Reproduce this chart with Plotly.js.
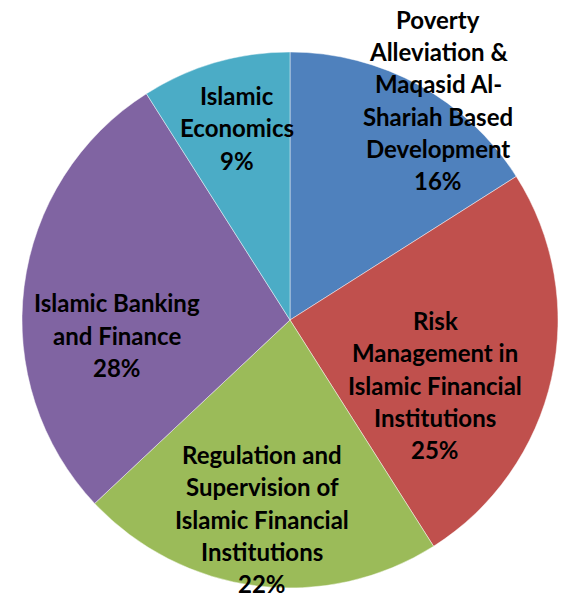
<!DOCTYPE html>
<html>
<head>
<meta charset="utf-8">
<script src="https://cdn.plot.ly/plotly-3.0.1.min.js"></script>
<style>html,body{margin:0;padding:0;background:#fff;}#chart{width:566px;height:599px;}</style>
</head>
<body>
<div id="chart"></div>
<script>
// Data
const categories = [
  "Poverty Alleviation & Maqasid Al-Shariah Based Development",
  "Risk Management in Islamic Financial Institutions",
  "Regulation and Supervision of Islamic Financial Institutions",
  "Islamic Banking and Finance",
  "Islamic Economics"
];
const shares = [16, 25, 22, 28, 9];
const labelLines = [
  ["Poverty", "Alleviation &", "Maqasid Al-", "Shariah Based", "Development"],
  ["Risk", "Management in", "Islamic Financial", "Institutions"],
  ["Regulation and", "Supervision of", "Islamic Financial", "Institutions"],
  ["Islamic Banking", "and Finance"],
  ["Islamic", "Economics"]
];
const colors = ["#4F81BD", "#C0504D", "#9BBB59", "#8064A2", "#4BACC6"];

// Layout (label centre positions in pixels of the page)
const W = 566, H = 599;
const M = {l: 22, r: 8, t: 52, b: 11};
const labelCentres = [[438, 100], [435, 385], [262, 519], [117, 335], [237, 128]];
const lineStep = 32.2;

const pw = W - M.l - M.r, ph = H - M.t - M.b;
const annotations = [];
labelLines.forEach((lines, i) => {
  const all = lines.concat([shares[i] + "%"]);
  const n = all.length;
  all.forEach((t, j) => {
    const px = labelCentres[i][0];
    const py = labelCentres[i][1] + (j - (n - 1) / 2) * lineStep;
    annotations.push({
      text: t, showarrow: false, xref: "paper", yref: "paper",
      x: (px - M.l) / pw, y: 1 - (py - M.t) / ph,
      xanchor: "center", yanchor: "middle", borderpad: 0,
      font: {family: "Lato, 'Open Sans', sans-serif", size: 24, color: "#000", weight: "bold"}
    });
  });
});

Plotly.newPlot("chart", [{
  type: "pie",
  labels: categories,
  values: shares,
  sort: false,
  direction: "clockwise",
  rotation: 0,
  textinfo: "none",
  hoverinfo: "label+percent",
  marker: {colors: colors, line: {color: "rgba(255,255,255,0.45)", width: 1}}
}], {
  width: W, height: H,
  margin: M,
  showlegend: false,
  paper_bgcolor: "#fff",
  annotations: annotations
}, {displayModeBar: false, staticPlot: true});
</script>
</body>
</html>
